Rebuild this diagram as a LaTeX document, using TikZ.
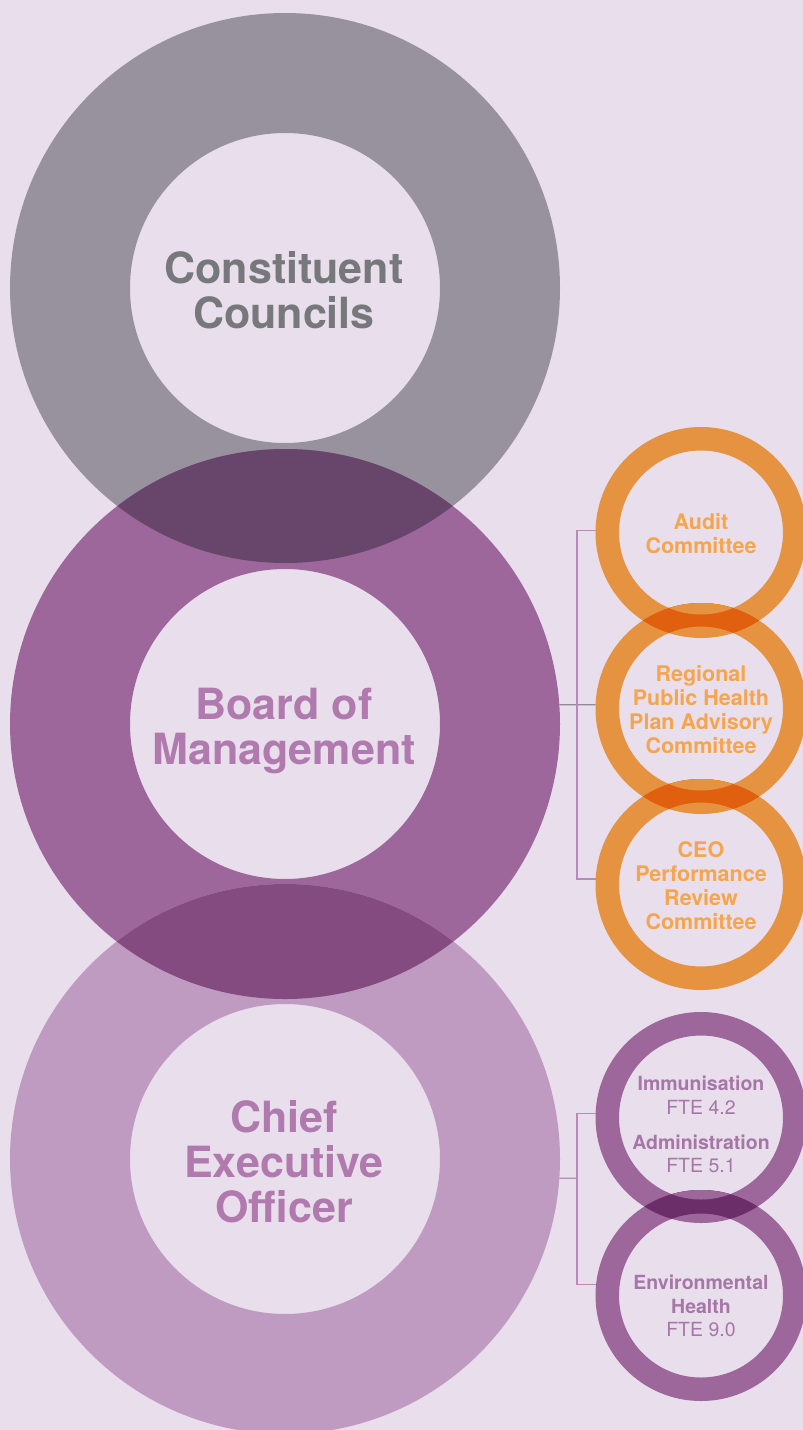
\documentclass[tikz,border=0pt]{standalone}
\usepackage{fontspec}
\setmainfont{TeX Gyre Heros}

\definecolor{bgcol}{HTML}{E9DEEC}
\definecolor{graycol}{HTML}{98929E}
\definecolor{boardcol}{HTML}{9E679C}
\definecolor{ceocol}{HTML}{BF9BC1}
\definecolor{gblens}{HTML}{68466B}
\definecolor{bclens}{HTML}{844B80}
\definecolor{orcol}{HTML}{E59340}
\definecolor{orlens}{HTML}{E0600F}
\definecolor{ortxt}{HTML}{F6A54C}
\definecolor{purlens}{HTML}{6C2E68}
\definecolor{cctxt}{HTML}{77787B}
\definecolor{bigtxt}{HTML}{B07AAE}
\definecolor{purtxt}{HTML}{A577A7}
\definecolor{linecol}{HTML}{B98AB9}
\definecolor{stubgray}{HTML}{8E8A96}

\tikzset{
  bigring/.style={circle, draw=#1, line width=120pt, minimum size=430pt, inner sep=0pt},
  smallring/.style={circle, draw=#1, line width=23.5pt, minimum size=187.5pt, inner sep=0pt},
  bigtext/.style={font=\fontsize{43}{45}\selectfont\bfseries, align=center, inner sep=0pt},
  ortext/.style={font=\fontsize{21.5}{24}\selectfont\bfseries, align=center, inner sep=0pt, text=ortxt},
  purtext/.style={font=\fontsize{19.5}{23.5}\selectfont, align=center, inner sep=0pt, text=purtxt},
  bracket/.style={draw=linecol, line width=1.3pt},
  stub/.style={draw=stubgray, line width=1.3pt}
}

\begin{document}
\begin{tikzpicture}[x=1pt,y=-1pt]
\useasboundingbox (0,0) rectangle (803,1430);
\clip (0,0) rectangle (803,1430);
\fill[bgcol] (0,0) rectangle (803,1430);

\node[bigring=graycol] (ccring) at (285,288) {};
\node[bigring=boardcol] (bmring) at (285,724) {};
\node[bigring=ceocol] (ceoring) at (285,1159) {};

\begin{scope}
\clip (ccring.center) circle (275pt);
\fill[gblens] (bmring.center) circle (275pt);
\end{scope}
\begin{scope}
\clip (bmring.center) circle (275pt);
\fill[bclens] (ceoring.center) circle (275pt);
\end{scope}

\node[smallring=orcol] (audring) at (701,532.5) {};
\node[smallring=orcol] (rphring) at (701,708.5) {};
\node[smallring=orcol] (cperfring) at (701,884.5) {};
\node[smallring=boardcol] (immring) at (701,1117.5) {};
\node[smallring=boardcol] (envring) at (701,1295.5) {};

\begin{scope}
\clip (audring.center) circle (105.5pt);
\draw[orlens, line width=23.5pt] (rphring.center) circle (93.75pt);
\clip (audring.center) circle (82pt);
\draw[orcol, line width=23.5pt] (rphring.center) circle (93.75pt);
\end{scope}
\begin{scope}
\clip (rphring.center) circle (105.5pt);
\draw[orlens, line width=23.5pt] (cperfring.center) circle (93.75pt);
\clip (rphring.center) circle (82pt);
\draw[orcol, line width=23.5pt] (cperfring.center) circle (93.75pt);
\end{scope}
\begin{scope}
\clip (immring.center) circle (105.5pt);
\draw[purlens, line width=23.5pt] (envring.center) circle (93.75pt);
\clip (immring.center) circle (82pt);
\draw[boardcol, line width=23.5pt] (envring.center) circle (93.75pt);
\end{scope}

\node[bigtext, text=cctxt] (cc) at (284,290.5) {Constituent\\Councils};
\node[bigtext, text=bigtxt] (bm) at (284,731) {Board of\\Management};
\node[bigtext, text=bigtxt] (ceo) at (284,1161.5) {Chief\\Executive\\Officer};

\node[ortext] (aud) at (701,533.5) {Audit\\Committee};
\node[ortext] (rph) at (701,710) {Regional\\Public Health\\Plan Advisory\\Committee};
\node[ortext] (cperf) at (701,885.5) {CEO\\Performance\\Review\\Committee};
\node[purtext] (imm) at (701,1124.5) {\textbf{Immunisation}\\FTE 4.2\\[11.5pt]\textbf{Administration}\\FTE 5.1};
\node[purtext] (env) at (701,1306) {\textbf{Environmental}\\\textbf{Health}\\FTE 9.0};

\coordinate (obr) at (577,704.8);
\coordinate (ibr) at (577,1178.2);
\draw[stub] (bmring.4) -- (rphring.178);
\draw[bracket] (audring.179) -| (obr) |- (cperfring.177);
\draw[bracket] (ceoring.356) -- (ibr);
\draw[bracket] (immring.178) -| (ibr) |- (envring.174);
\end{tikzpicture}
\end{document}
